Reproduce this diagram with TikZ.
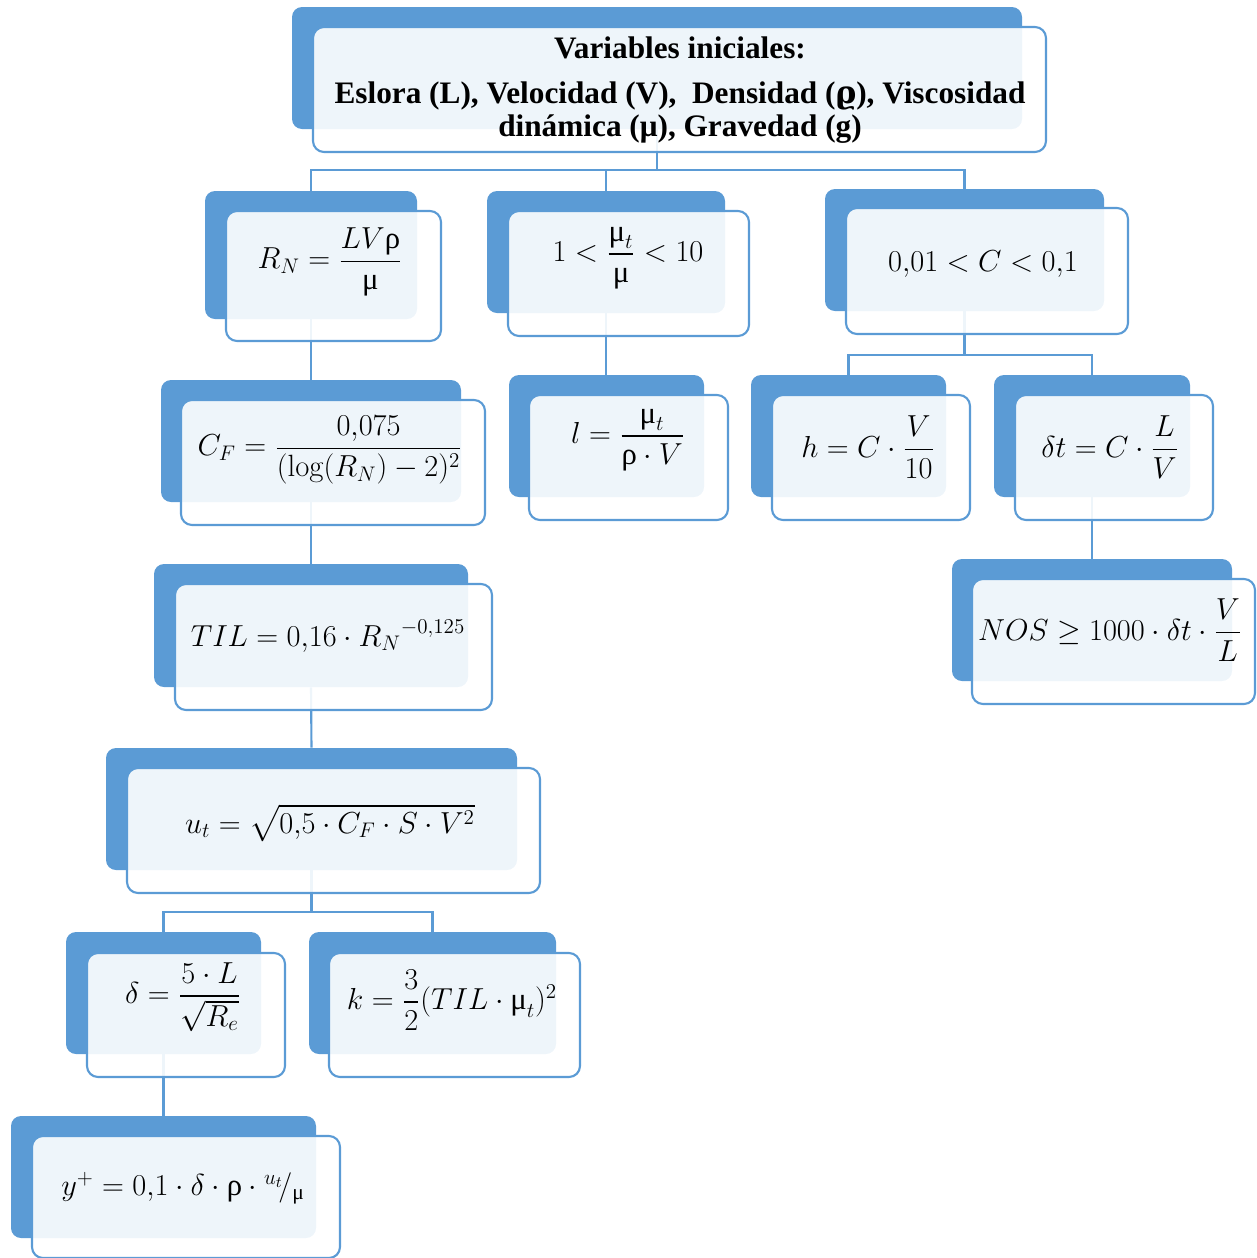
\documentclass[tikz,border=0pt]{standalone}
\usepackage{amsmath}
\usepackage{fontspec}
\newfontfamily\grk{Liberation Serif}
\newfontfamily\grkb{DejaVu Serif}
\newfontfamily\ttl{Liberation Serif}
\usetikzlibrary{fit,backgrounds}
\definecolor{accent}{HTML}{5B9BD5}
\newcommand\umu{\text{\grk μ}}
\newcommand\urho{\text{\grk ρ}}
\newcommand\tbox[9]{%
  \node[back, fit={(#2,#3) (#4,#5)}] (#1B) {};
  \node[front, fit={(#6,#7) (#8,#9)}] (#1F) {};}
\tikzset{
  back/.style={fill=accent, draw=none, rounded corners=0.2cm, inner sep=0pt},
  front/.style={fill=white, fill opacity=0.9, draw=accent, line width=1.2pt, rounded corners=0.22cm, inner sep=0pt},
  conn/.style={draw=accent, line width=1.2pt},
  eq/.style={font=\fontsize{17.5}{20}\selectfont, inner sep=0pt},
}
\begin{document}
\begin{tikzpicture}[x=0.02cm,y=-0.02cm]
\useasboundingbox (0,0) rectangle (1257,1258);
\tbox{top}{292}{7}{1022}{129}{313}{27}{1046}{152}
\tbox{rn}{205}{191}{417}{319}{226}{211}{441}{341}
\tbox{mu}{487}{191}{725}{313}{508}{211}{749}{336}
\tbox{c}{825}{189}{1104}{311}{846}{208}{1128}{334}
\tbox{cf}{161}{380}{461}{502}{181}{400}{485}{525}
\tbox{l}{509}{375}{704}{497}{529}{395}{728}{520}
\tbox{h}{751}{375}{946}{497}{772}{395}{970}{520}
\tbox{dt}{994}{375}{1190}{497}{1015}{395}{1213}{520}
\tbox{til}{154}{564}{468}{687}{175}{584}{492}{710}
\tbox{nos}{952}{559}{1232}{681}{972}{579}{1255}{704}
\tbox{ut}{106}{748}{517}{870}{127}{768}{540}{893}
\tbox{d}{66}{932}{261}{1054}{87}{953}{285}{1077}
\tbox{k}{309}{932}{556}{1054}{329}{953}{580}{1077}
\tbox{yp}{11}{1116}{316}{1238}{32}{1136}{340}{1258}

\node[font=\ttl\bfseries\fontsize{17.8}{18.8}\selectfont, align=center, inner sep=0pt] (topT) at (680,90)
  {Variables iniciales:\\[7pt] Eslora (L), Velocidad (V), \ Densidad ({\grkb ϱ}), Viscosidad\\ dinámica (μ), Gravedad (g)};
\node[eq] (rnT) at (330,262) {$R_N=\dfrac{LV\urho}{\umu}$};
\node[eq] (muT) at (628,258) {$1<\dfrac{\umu_t}{\umu}<10$};
\node[eq] (cT) at (983,264) {$0{,}01<C<0{,}1$};
\node[eq] (cfT) at (330,450) {$C_F=\dfrac{0{,}075}{(\log(R_N)-2)^2}$};
\node[eq] (lT) at (628,440) {$l=\dfrac{\umu_t}{\urho\cdot V}$};
\node[eq] (hT) at (868,447) {$h=C\cdot\dfrac{V}{10}$};
\node[eq] (dtT) at (1110,447) {$\delta t=C\cdot\dfrac{L}{V}$};
\node[eq] (tilT) at (328,636) {$TIL=0{,}16\cdot {R_N}^{-0{,}125}$};
\node[eq] (nosT) at (1110,630) {$NOS\geq 1000\cdot\delta t\cdot\dfrac{V}{L}$};
\node[eq] (utT) at (330,823) {$u_t=\sqrt{0{,}5\cdot C_F\cdot S\cdot V^2}$};
\node[eq] (dT) at (183,997) {$\delta=\dfrac{5\cdot L}{\sqrt{R_e}}$};
\node[eq] (kT) at (452,1000) {$k=\dfrac{3}{2}(TIL\cdot\umu_t)^2$};
\node[eq] (ypT) at (183,1188) {$y^+=0{,}1\cdot\delta\cdot\urho\cdot{}^{u_t}\!/_{\umu}$};

\begin{pgfonlayer}{background}
\coordinate (j1) at (657,170);
\coordinate (j2) at (964.5,355);
\coordinate (j3) at (311.5,912);
\draw[conn] (topB.south) -- (j1);
\draw[conn] (rnB.north) |- (j1) -| (cB.north);
\draw[conn] (muB.north) -- (muB.north |- j1);
\draw[conn] (rnB.south) -- (cfB.north);
\draw[conn] (muB.south) -- (muB.south |- lB.north);
\draw[conn] (cB.south) -- (j2);
\draw[conn] (hB.north) |- (j2) -| (dtB.north);
\draw[conn] (dtB.south) -- (nosB.north);
\draw[conn] (cfB.south) -- (tilB.north);
\draw[conn] (tilB.south) -- (utB.north);
\draw[conn] (utB.south) -- (j3);
\draw[conn] (dB.north) |- (j3) -| (kB.north);
\draw[conn] (dB.south) -- (ypB.north);
\end{pgfonlayer}
\end{tikzpicture}
\end{document}
